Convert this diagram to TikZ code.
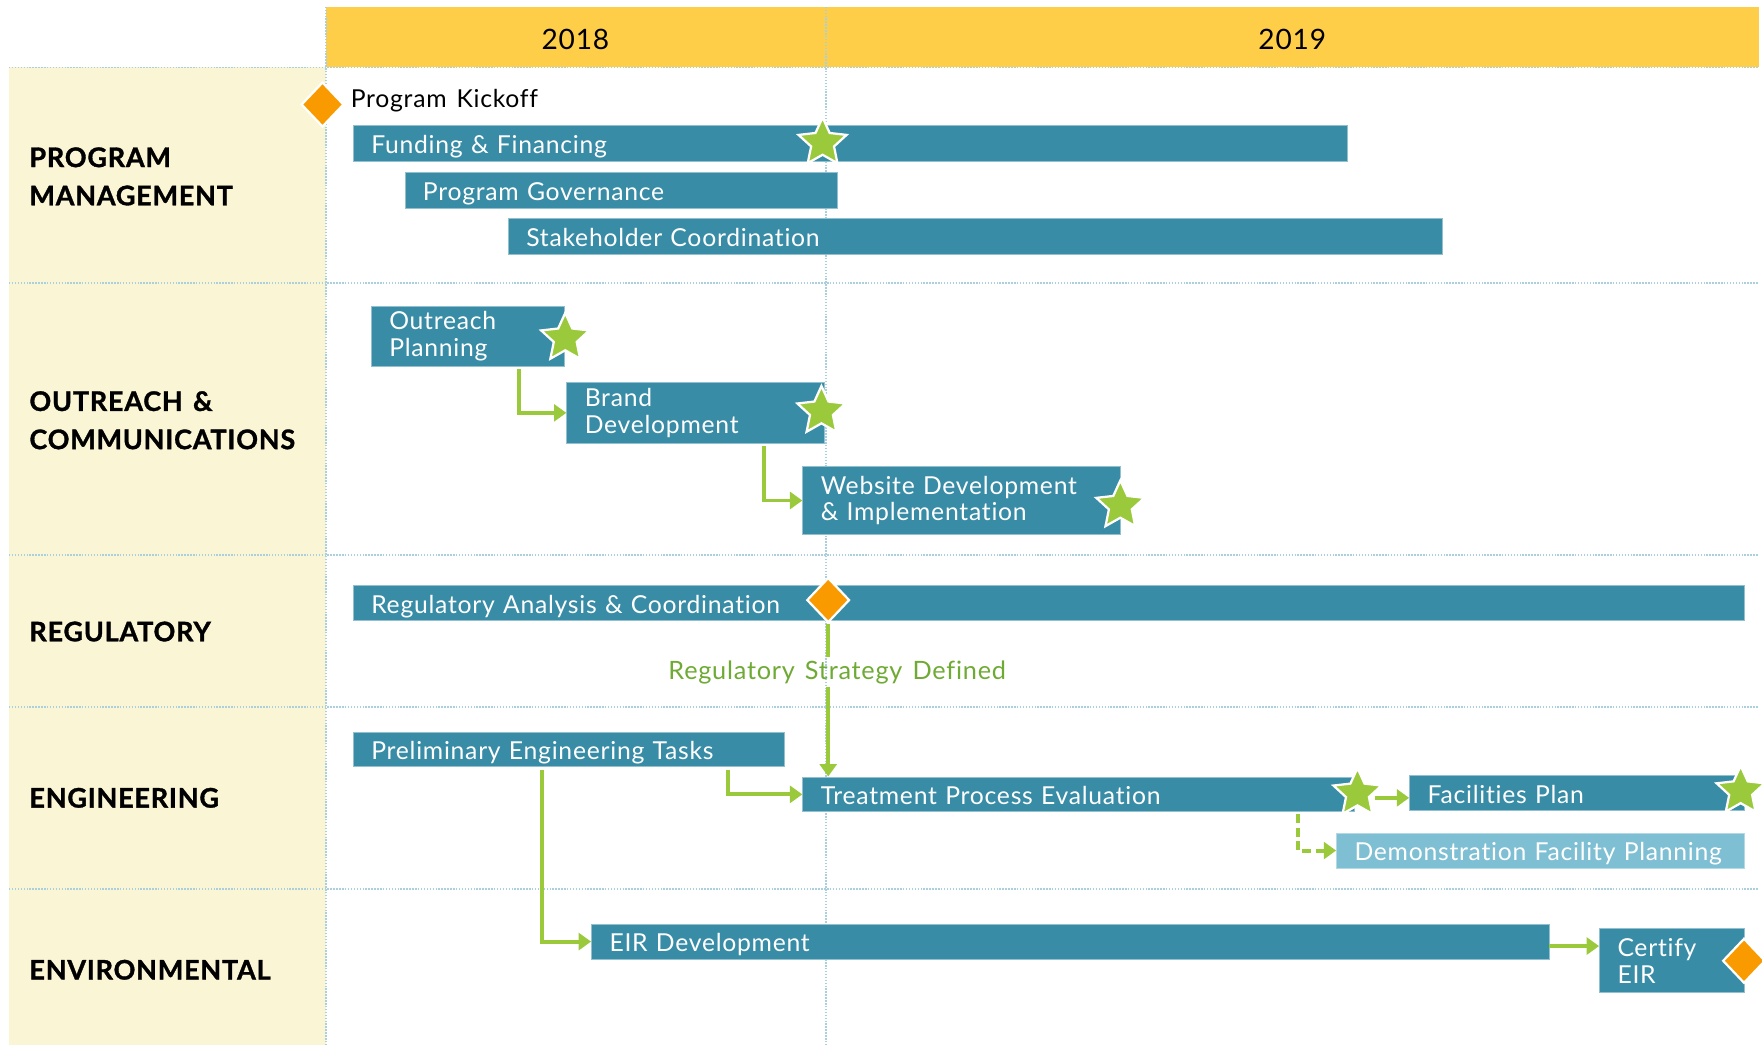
\documentclass[tikz,border=0pt]{standalone}
\usepackage{fontspec}
\setmainfont{Lato}[WordSpace=1.4, LetterSpace=3, Ligatures=NoCommon]
\newfontfamily\catfont{Lato}[WordSpace=1.4, LetterSpace=3, Ligatures=NoCommon, BoldFeatures={FakeBold=1.2}]
\usetikzlibrary{shapes.geometric,arrows.meta,calc}
\definecolor{barteal}{HTML}{388CA6}
\definecolor{barlight}{HTML}{7FBFD3}
\definecolor{stargreen}{HTML}{9ACA3C}
\definecolor{textgreen}{HTML}{6FAA35}
\definecolor{diaorange}{HTML}{F99B00}
\definecolor{hdryellow}{HTML}{FECE48}
\definecolor{cream}{HTML}{FAF5D4}
\definecolor{gridblue}{HTML}{A9D0DC}
\tikzset{
  bar/.style={fill=barteal, draw=barteal!55!white, line width=0.8pt, text=white,
    inner xsep=16pt, inner ysep=0pt, align=left, anchor=north west,
    font=\fontsize{22}{24}\selectfont},
  one/.style={text height=18pt, text depth=0pt},
  lightbar/.style={bar, fill=barlight, draw=barlight!60!white},
  starnode/.style={star, star points=5, star point ratio=2.1, fill=stargreen,
    draw=white, line width=2pt, minimum size=45pt, inner sep=0pt},
  diam/.style={diamond, fill=diaorange, draw=white, line width=2pt,
    minimum width=38pt, minimum height=40pt, inner sep=0pt},
  gridline/.style={draw=gridblue, line width=1.6pt, dash pattern=on 1.3pt off 1.3pt},
  garrow/.style={draw=stargreen, line width=3.5pt, -{Triangle[length=11pt,width=15pt]}},
  gdash/.style={garrow, dash pattern=on 8pt off 4pt},
  gline/.style={draw=stargreen, line width=3.5pt},
  cat/.style={anchor=west, align=left, inner sep=0pt,
    font=\catfont\bfseries\fontsize{24}{34}\selectfont},
  yeartext/.style={font=\fontsize{25}{28}\selectfont, inner sep=0pt}
}
\begin{document}
\begin{tikzpicture}[x=1pt,y=-1pt]
\useasboundingbox (0,0) rectangle (1568,930);
% backgrounds
\fill[cream] (8,60) rectangle (290,930);
\fill[hdryellow] (290,6) rectangle (1565,60);
% grid
\foreach \yy in {60,252,494,629,791} \draw[gridline] (8,\yy) -- (1565,\yy);
\draw[gridline] (290,6) -- (290,930);
\draw[gridline] (735,6) -- (735,930);
% header
\node[yeartext] (y18) at (512,35) {2018};
\node[yeartext] (y19) at (1150,35) {2019};
% categories
\node[cat] (cpm) at (26,157) {PROGRAM\\MANAGEMENT};
\node[cat] (coc) at (26,374) {OUTREACH \&\\COMMUNICATIONS};
\node[cat] (creg) at (26,562) {REGULATORY};
\node[cat] (ceng) at (26,710) {ENGINEERING};
\node[cat] (cenv) at (26,863) {ENVIRONMENTAL};
% program management
\node[anchor=west, inner sep=0pt, font=\fontsize{22}{24}\selectfont] (pkt) at (312,90) {Program Kickoff};
\node[bar, one, text width=853pt, minimum height=32pt] (ff) at (314,111) {Funding \& Financing};
\node[bar, one, text width=353pt, minimum height=32pt] (pg) at (360,153) {Program Governance};
\node[bar, one, text width=799pt, minimum height=32pt] (sc) at (452,194) {Stakeholder Coordination};
% outreach
\node[bar, text width=140pt, minimum height=54pt] (op) at (330,272) {Outreach\\Planning};
\node[bar, text width=197pt, minimum height=54pt] (bd) at (504,340) {Brand\\Development};
\node[bar, text width=251pt, minimum height=60pt] (wd) at (714,415) {Website Development\\\& Implementation};
% regulatory
\node[bar, one, text width=1206pt, minimum height=31pt] (ra) at (314,521) {Regulatory Analysis \& Coordination};
\node[font=\fontsize{22.5}{26}\selectfont, text=textgreen, inner sep=3pt] (rsd) at (745,598) {Regulatory Strategy Defined};
% engineering
\node[bar, one, text width=352pt, minimum height=31pt] (pe) at (314,651) {Preliminary Engineering Tasks};
\node[bar, one, text width=459pt, minimum height=31pt] (tp) at (714,691) {Treatment Process Evaluation};
\node[bar, one, text width=266pt, minimum height=31pt] (fp) at (1254,690) {Facilities Plan};
\node[lightbar, one, text width=331pt, minimum height=31pt] (dfp) at (1189,741) {Demonstration Facility Planning};
% environmental
\node[bar, one, text width=820pt, minimum height=31pt] (eir) at (526,822) {EIR Development};
\node[bar, text width=97pt, minimum height=57pt] (ce) at (1423,826) {Certify\\EIR};
% connectors
\draw[garrow] ($(op.south west)+(132,2)$) |- (bd.west);
\draw[garrow] ($(bd.south west)+(176,2)$) |- (wd.west);
\draw[garrow] ($(pe.south west)+(334,2)$) |- (tp.west);
\draw[garrow] ($(pe.south west)+(168,2)$) |- (eir.west);
\draw[gdash] ($(tp.south west)+(441,2)$) |- (dfp.west);
\draw[garrow] ([yshift=-4pt]eir.east) -- ([yshift=-4pt]eir.east -| ce.west);
% milestones
\node[diam] (dko) at (287,93) {};
\node[diam] (dra) at (737,534) {};
\node[diam] (dce) at (1552,855) {};
\draw[gline] (dra.south) -- (rsd.north -| dra);
\draw[garrow] (rsd.south -| dra) -- (tp.north -| dra);
\node[starnode] (sff) at (732,127) {};
\node[starnode] (sop) at (503,301) {};
\node[starnode] (sbd) at (731,366) {};
\node[starnode] (swd) at (997,450) {};
\node[starnode] (stp) at (1208,706) {};
\node[starnode] (sfp) at (1549,704) {};
\draw[garrow] ([yshift=-4pt]stp.east) -- ([yshift=-4pt]stp.east -| fp.west);
\end{tikzpicture}
\end{document}
